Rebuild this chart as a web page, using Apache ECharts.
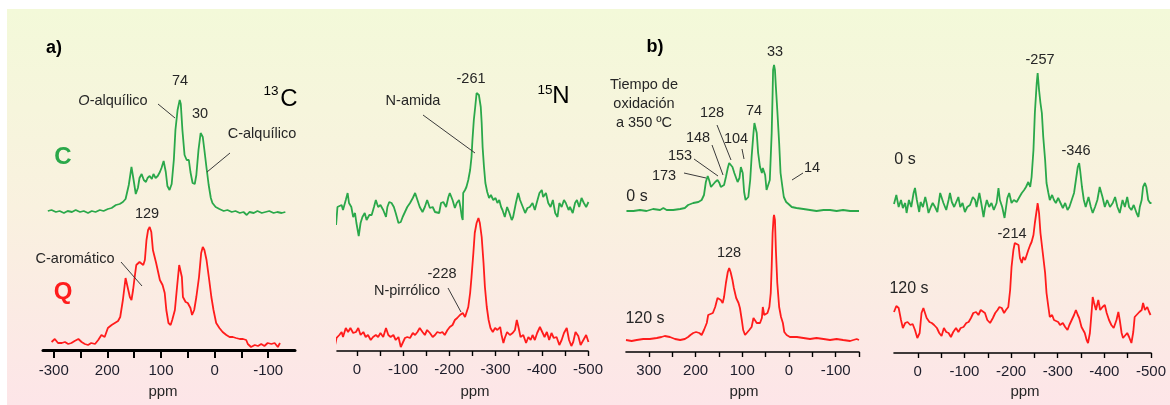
<!DOCTYPE html>
<html>
<head>
<meta charset="utf-8">
<script src="https://cdn.jsdelivr.net/npm/echarts@6/dist/echarts.min.js"></script>
<style>
  html, body { margin: 0; padding: 0; background: #fff; }
  #fondo {
    position: absolute; left: 7px; top: 9px; width: 1163px; height: 396px;
    background: linear-gradient(to bottom, #f3f9d9 0%, #f9f1df 50%, #fde5e8 100%);
  }
  #main { position: absolute; left: 0; top: 0; width: 1170px; height: 405px; }
</style>
</head>
<body>
<div id="fondo"></div>
<div id="main"></div>
<script>
// ---- datos: [ppm, intensidad relativa] ----

// a) 13C, muestra C (verde)
var c13_C = [[311,1],[304,2],[296,0],[289,1],[281,-1],[274,1],[266,0],[259,2],[251,0],[244,1],[236,-1],[229,1],[222,0],[214,2],[207,1],[199,3],[192,4],[184,7],[177,8],[171,10],[166,13],[160,27],[155,45],[151,32],[147,18],[143,24],[140,34],[136,38],[132,32],[128,30],[125,34],[121,36],[117,33],[114,38],[110,34],[106,36],[102,40],[99,44],[95,51],[91,40],[88,26],[84,22],[80,28],[76,52],[73,82],[69,102],[65,112],[63,108],[60,82],[56,57],[52,52],[48,52],[45,40],[41,29],[37,28],[34,37],[30,62],[26,79],[22,75],[19,62],[15,44],[11,27],[7,14],[4,9],[-2,5],[-9,3],[-17,1],[-24,2],[-32,0],[-39,1],[-47,-1],[-54,0],[-60,-3],[-65,0],[-73,-1],[-80,1],[-88,-1],[-95,0],[-102,1],[-110,-1],[-117,0],[-125,-1],[-132,0]];

// a) 13C, muestra Q (rojo)
var c13_Q = [[304,1],[298,4],[292,0],[285,0],[279,1],[273,-1],[267,0],[261,2],[254,4],[248,1],[242,-1],[236,-2],[230,0],[223,-1],[217,3],[211,8],[205,6],[199,15],[192,18],[186,20],[180,22],[176,26],[171,43],[166,65],[163,67],[158,46],[155,43],[152,53],[149,66],[146,78],[143,80],[140,81],[137,80],[133,78],[130,83],[127,103],[124,113],[121,116],[118,111],[115,93],[109,80],[102,63],[97,58],[93,50],[90,33],[86,20],[82,18],[79,23],[74,33],[70,56],[66,78],[64,80],[61,66],[59,46],[54,41],[50,40],[45,35],[42,28],[38,33],[34,46],[29,66],[25,90],[22,96],[19,93],[15,83],[10,63],[6,46],[2,33],[-3,20],[-9,15],[-15,11],[-22,8],[-28,6],[-34,6],[-40,5],[-47,4],[-53,4],[-59,3],[-62,-1],[-68,-4],[-75,-2],[-81,-3],[-87,-1],[-93,-3],[-99,0],[-106,-1],[-112,0],[-118,-4],[-122,0]];

// a) 15N, muestra C (verde)
var n15_C = [[50,-3],[45,-18],[42,0],[38,-1],[33,2],[30,-3],[24,7],[20,14],[17,4],[12,0],[8,-10],[4,-6],[1,-16],[-4,-29],[-8,-16],[-12,-10],[-17,-6],[-21,-13],[-27,-8],[-32,-8],[-37,0],[-41,7],[-46,0],[-51,2],[-57,-3],[-63,-10],[-66,0],[-70,5],[-75,4],[-80,0],[-84,-6],[-90,-16],[-95,-15],[-99,-10],[-104,-5],[-109,0],[-115,4],[-121,9],[-126,14],[-131,7],[-136,0],[-142,-5],[-147,0],[-152,7],[-158,-1],[-164,0],[-169,-5],[-172,-3],[-178,-6],[-182,4],[-187,5],[-193,0],[-198,10],[-201,14],[-207,7],[-212,-1],[-216,4],[-221,7],[-224,0],[-227,-10],[-229,-13],[-230,14],[-234,17],[-237,20],[-241,27],[-245,37],[-248,50],[-250,67],[-253,87],[-256,100],[-259,114],[-261,115],[-264,112],[-268,100],[-270,84],[-272,60],[-275,40],[-278,24],[-282,15],[-286,9],[-290,12],[-295,7],[-300,9],[-304,4],[-308,7],[-312,0],[-315,-3],[-320,-10],[-325,0],[-330,-6],[-335,-13],[-338,-10],[-344,4],[-349,14],[-353,7],[-359,0],[-364,-6],[-369,-1],[-374,0],[-380,4],[-385,-3],[-389,4],[-395,14],[-400,17],[-403,10],[-409,14],[-414,4],[-419,0],[-424,7],[-429,-6],[-434,-10],[-438,4],[-443,0],[-448,7],[-452,4],[-458,-3],[-461,0],[-467,-6],[-472,4],[-476,7],[-481,0],[-486,9],[-491,4],[-496,0],[-501,5]];

// a) 15N, muestra Q (rojo)
var n15_Q = [[51,-3],[48,-10],[44,-1],[38,2],[33,5],[30,0],[24,9],[19,5],[14,9],[8,4],[2,5],[-3,9],[-8,2],[-14,5],[-19,0],[-24,2],[-30,-3],[-35,0],[-41,2],[-46,0],[-51,4],[-57,0],[-63,9],[-68,2],[-73,0],[-79,2],[-84,-3],[-90,0],[-95,-10],[-99,-6],[-104,-1],[-109,0],[-115,-1],[-121,4],[-126,2],[-131,5],[-136,9],[-142,5],[-147,2],[-152,7],[-158,4],[-164,0],[-169,2],[-174,5],[-180,4],[-185,5],[-190,2],[-196,7],[-201,10],[-207,12],[-212,17],[-217,19],[-223,22],[-229,24],[-234,20],[-237,22],[-241,30],[-245,44],[-248,60],[-252,84],[-255,104],[-259,114],[-263,119],[-266,114],[-270,100],[-274,74],[-277,50],[-281,30],[-285,17],[-289,9],[-294,5],[-299,9],[-304,7],[-310,10],[-313,2],[-317,-6],[-320,-1],[-325,5],[-331,2],[-337,4],[-342,7],[-346,17],[-350,9],[-354,0],[-360,2],[-366,-6],[-371,0],[-376,-3],[-380,2],[-385,-3],[-390,4],[-396,10],[-401,5],[-406,0],[-411,5],[-416,-3],[-421,4],[-426,-1],[-432,0],[-438,-8],[-443,-3],[-448,4],[-454,9],[-459,-3],[-464,-9],[-468,-5],[-473,5],[-479,1],[-484,-8],[-490,-3],[-496,2],[-501,-5]];

// b) 13C, 0 s (verde)
var c13_0s = [[348,-1],[333,-1],[319,0],[305,-1],[291,1],[276,0],[269,2],[262,0],[248,0],[233,1],[223,2],[216,5],[205,7],[194,8],[187,10],[182,15],[178,28],[174,34],[171,30],[167,23],[163,25],[158,28],[153,30],[149,27],[146,23],[142,23],[139,25],[135,33],[131,42],[128,47],[124,48],[121,43],[117,37],[113,35],[110,28],[106,32],[103,43],[101,45],[99,37],[96,18],[93,10],[91,8],[87,13],[83,30],[80,53],[76,77],[74,87],[72,87],[69,77],[66,57],[62,43],[58,37],[56,42],[54,43],[51,35],[48,20],[44,18],[41,30],[37,77],[35,117],[34,140],[32,145],[30,140],[28,123],[25,100],[21,67],[18,37],[14,23],[11,13],[6,8],[1,6],[-6,3],[-16,2],[-31,1],[-45,0],[-59,-1],[-74,0],[-88,0],[-102,-1],[-116,0],[-131,-1],[-145,-1],[-150,-1]];

// b) 13C, 120 s (rojo)
var c13_120s = [[349,0],[337,-1],[326,0],[312,1],[298,1],[283,2],[273,3],[266,4],[262,5],[255,3],[244,1],[233,0],[223,1],[216,3],[211,5],[205,7],[199,8],[192,7],[187,5],[182,10],[176,17],[173,25],[169,23],[163,27],[158,33],[153,42],[149,43],[146,40],[142,37],[139,43],[135,57],[131,68],[128,72],[125,68],[121,60],[118,52],[113,42],[108,37],[105,32],[101,20],[98,10],[94,5],[91,7],[85,10],[80,13],[76,22],[73,23],[69,17],[66,15],[62,17],[58,22],[56,33],[53,25],[50,23],[46,27],[42,33],[39,47],[37,73],[35,107],[33,122],[32,125],[30,120],[28,90],[25,57],[21,33],[17,23],[13,17],[10,8],[5,5],[-2,3],[-17,3],[-31,2],[-45,1],[-59,2],[-74,1],[-88,0],[-102,1],[-116,0],[-131,-1],[-145,1],[-150,0]];

// b) 15N, 0 s (verde)
var n15_0s = [[51,-1],[46,8],[41,-4],[36,3],[32,-5],[27,0],[24,-10],[19,3],[14,-4],[9,10],[6,15],[2,3],[-3,-9],[-6,1],[-11,-4],[-16,6],[-19,0],[-23,-10],[-28,-4],[-32,0],[-37,-4],[-42,-9],[-48,10],[-51,11],[-55,0],[-61,-7],[-66,3],[-69,10],[-73,1],[-78,-4],[-82,-2],[-87,6],[-91,-4],[-96,0],[-101,-9],[-106,-4],[-112,-2],[-118,6],[-123,3],[-126,-4],[-132,10],[-136,0],[-141,-14],[-144,-5],[-148,3],[-153,-4],[-158,0],[-163,-7],[-169,0],[-173,15],[-176,3],[-181,-4],[-186,-15],[-189,-5],[-192,5],[-196,10],[-201,0],[-206,3],[-212,1],[-218,6],[-223,10],[-228,13],[-232,16],[-237,21],[-241,16],[-244,26],[-248,53],[-251,90],[-255,120],[-257,130],[-260,113],[-263,100],[-266,90],[-269,66],[-273,43],[-276,20],[-280,10],[-283,3],[-288,8],[-292,3],[-296,0],[-301,5],[-305,3],[-311,-5],[-316,0],[-321,-7],[-325,-4],[-330,3],[-335,10],[-339,23],[-343,36],[-346,40],[-348,33],[-352,16],[-356,3],[-360,-4],[-366,6],[-371,-4],[-375,-10],[-380,-4],[-385,3],[-390,16],[-396,6],[-401,-4],[-406,3],[-412,-4],[-418,0],[-423,6],[-428,-4],[-433,-10],[-439,3],[-444,-4],[-449,6],[-453,-4],[-458,-7],[-463,-2],[-469,-10],[-473,-14],[-476,-4],[-480,3],[-483,16],[-487,20],[-490,16],[-494,3],[-498,0],[-501,0]];

// b) 15N, 120 s (rojo)
var n15_120s = [[51,11],[46,17],[41,15],[36,3],[32,-5],[27,0],[22,1],[16,-2],[11,-1],[6,-7],[1,-15],[-4,-10],[-8,10],[-12,15],[-16,13],[-19,5],[-25,1],[-30,0],[-35,-2],[-41,-5],[-46,-10],[-51,-13],[-56,-5],[-61,-9],[-66,-10],[-71,-14],[-76,-9],[-82,-5],[-87,-9],[-92,-5],[-98,-4],[-104,0],[-109,1],[-114,5],[-119,10],[-125,11],[-130,8],[-135,13],[-139,15],[-144,10],[-149,3],[-155,0],[-161,5],[-166,10],[-171,13],[-175,16],[-180,15],[-185,10],[-189,13],[-194,16],[-198,33],[-201,56],[-205,73],[-208,80],[-212,81],[-216,78],[-219,65],[-223,60],[-226,66],[-230,63],[-233,65],[-237,73],[-241,78],[-244,81],[-248,88],[-251,100],[-255,113],[-257,120],[-260,110],[-263,90],[-268,70],[-273,50],[-276,30],[-280,16],[-283,6],[-288,8],[-292,3],[-296,5],[-301,1],[-305,-2],[-311,0],[-316,-4],[-321,-7],[-325,-2],[-330,3],[-335,8],[-339,13],[-343,8],[-346,5],[-351,-4],[-355,-5],[-358,-10],[-362,-17],[-365,-20],[-369,-10],[-373,13],[-375,26],[-378,20],[-382,13],[-387,23],[-391,13],[-396,16],[-401,18],[-405,10],[-410,3],[-415,-2],[-420,-5],[-426,3],[-430,11],[-433,3],[-437,-10],[-440,-15],[-444,-14],[-449,-10],[-453,-14],[-458,-20],[-462,-9],[-465,6],[-469,8],[-475,11],[-480,13],[-483,20],[-487,13],[-492,16],[-496,11],[-499,8]];

// marcas de los ejes
var ticksA13C = [300, 250, 200, 150, 100, 50, 0, -50, -100];
var labelsA13C = [300, 200, 100, 0, -100];
var ticks15N = [0, -50, -100, -150, -200, -250, -300, -350, -400, -450, -500];
var labels15N = [0, -100, -200, -300, -400, -500];
var ticksB13C = [300, 250, 200, 150, 100, 50, 0, -50, -100, -150];
var labelsB13C = [300, 200, 100, 0, -100];

var VERDE = '#2aa84a', ROJO = '#ff1c1c', TEXTO = '#262626';
var FUENTE = '"Liberation Sans", Arial, sans-serif';

// cada panel: eje x comun, traza verde arriba y roja abajo
var paneles = [
  { left: 43, width: 252, xmin: -150, xmax: 320, ticks: ticksA13C, labels: labelsA13C, grueso: true,
    arriba: { data: c13_C, top: 100, height: 117, ymin: -5, ymax: 112 },
    abajo: { data: c13_Q, top: 227, height: 123, ymin: -7, ymax: 116 } },
  { left: 337, width: 251, xmin: -500, xmax: 43, ticks: ticks15N, labels: labels15N,
    arriba: { data: n15_C, top: 92, height: 145, ymin: -30, ymax: 115 },
    abajo: { data: n15_Q, top: 218, height: 133, ymin: -14, ymax: 119 } },
  { left: 626, width: 233, xmin: -150, xmax: 349, ticks: ticksB13C, labels: labelsB13C,
    arriba: { data: c13_0s, top: 65, height: 150, ymin: -5, ymax: 145 },
    abajo: { data: c13_120s, top: 215, height: 137, ymin: -12, ymax: 125 } },
  { left: 894, width: 257, xmin: -500, xmax: 51, ticks: ticks15N, labels: labels15N,
    arriba: { data: n15_0s, top: 73, height: 145, ymin: -15, ymax: 130 },
    abajo: { data: n15_120s, top: 203, height: 150, ymin: -30, ymax: 120 } }
];

var grids = [], xAxes = [], yAxes = [], series = [];
paneles.forEach(function (p, i) {
  [p.arriba, p.abajo].forEach(function (t, k) {
    var idx = grids.length;
    var conEje = k === 1;
    grids.push({ left: p.left, width: p.width, top: t.top, height: t.height });
    xAxes.push({
      type: 'value', gridIndex: idx, inverse: true, min: p.xmin, max: p.xmax,
      show: conEje, splitLine: { show: false },
      axisLine: { show: true, onZero: false, lineStyle: { color: '#000', width: p.grueso ? 3 : 1.6 } },
      axisTick: { show: true, customValues: p.ticks, length: p.grueso ? 8 : 5,
                  lineStyle: { color: '#000', width: p.grueso ? 2 : 1.4 } },
      axisLabel: { customValues: p.labels, margin: p.grueso ? 13 : 11, color: '#1d1d2b',
                   fontSize: 15, fontFamily: FUENTE,
                   formatter: function (v) { return (i === 0 && v === 300) ? '-300' : String(v); } }
    });
    yAxes.push({ type: 'value', gridIndex: idx, show: false, min: t.ymin, max: t.ymax });
    series.push({
      type: 'line', xAxisIndex: idx, yAxisIndex: idx, data: t.data,
      showSymbol: false, silent: true, clip: false,
      lineStyle: { color: k === 0 ? VERDE : ROJO, width: 1.8 }
    });
  });
});

// textos y lineas de referencia
var normal = '14.5px ' + FUENTE;
function txt(x, y, s, extra) {
  var st = { text: s, x: x, y: y, fill: TEXTO, font: normal,
             align: 'center', verticalAlign: 'middle', textAlign: 'center', textVerticalAlign: 'middle' };
  for (var k in extra) st[k] = extra[k];
  return { type: 'text', z: 10, style: st };
}
function lin(x1, y1, x2, y2) {
  return { type: 'line', z: 10, shape: { x1: x1, y1: y1, x2: x2, y2: y2 },
           style: { stroke: '#3a3a3a', lineWidth: 1 } };
}
var grande = '24px ' + FUENTE;
var ppmFont = '15px ' + FUENTE;
var etiquetas = [
  txt(54, 48, 'a)', { font: 'bold 18px ' + FUENTE, fill: '#000' }),
  txt(180, 81, '74'),
  txt(113, 101, '{i|O}-alquílico', { rich: { i: { fontStyle: 'italic', fontSize: 14.5, fontFamily: FUENTE, fill: TEXTO } } }),
  lin(158, 104, 175, 118),
  txt(200, 114, '30'),
  txt(271, 91, '13', { font: '13.5px ' + FUENTE, fill: '#000' }),
  txt(289, 99, 'C', { font: grande, fill: '#000' }),
  txt(262, 134, 'C-alquílico'),
  lin(230, 153, 207, 172),
  txt(63, 157, 'C', { font: 'bold 24px ' + FUENTE, fill: VERDE }),
  txt(147, 214, '129'),
  txt(75, 259, 'C-aromático'),
  lin(121, 262, 142, 286),
  txt(63, 292, 'Q', { font: 'bold 24px ' + FUENTE, fill: ROJO }),
  txt(163, 392, 'ppm', { font: ppmFont }),

  txt(471, 79, '-261'),
  txt(545, 90, '15', { font: '13.5px ' + FUENTE, fill: '#000' }),
  txt(561, 96, 'N', { font: grande, fill: '#000' }),
  txt(413, 101, 'N-amida'),
  lin(423, 115, 475, 153),
  txt(442, 274, '-228'),
  txt(407, 291, 'N-pirrólico'),
  lin(448, 288, 461, 312),
  txt(475, 392, 'ppm', { font: ppmFont }),

  txt(655, 47, 'b)', { font: 'bold 18px ' + FUENTE, fill: '#000' }),
  txt(775, 52, '33'),
  txt(644, 85, 'Tiempo de'),
  txt(644, 104, 'oxidación'),
  txt(644, 123, 'a 350 ºC'),
  txt(712, 113, '128'),
  txt(754, 111, '74'),
  txt(698, 138, '148'),
  txt(736, 139, '104'),
  txt(680, 156, '153'),
  txt(664, 176, '173'),
  txt(812, 168, '14'),
  lin(684, 173, 706, 178),
  lin(694, 159, 718, 176),
  lin(712, 145, 723, 175),
  lin(717, 125, 731, 160),
  lin(742, 149, 744, 159),
  lin(803, 173, 792, 180),
  txt(637, 197, '0 s', { font: '16px ' + FUENTE }),
  txt(729, 253, '128'),
  txt(645, 319, '120 s', { font: '16px ' + FUENTE }),
  txt(744, 392, 'ppm', { font: ppmFont }),

  txt(1040, 60, '-257'),
  txt(1076, 151, '-346'),
  txt(905, 160, '0 s', { font: '16px ' + FUENTE }),
  txt(1012, 234, '-214'),
  txt(909, 289, '120 s', { font: '16px ' + FUENTE }),
  txt(1025, 392, 'ppm', { font: ppmFont })
];

var myChart = echarts.init(document.getElementById('main'));
myChart.setOption({
  animation: false,
  backgroundColor: 'transparent',
  grid: grids,
  xAxis: xAxes,
  yAxis: yAxes,
  series: series,
  graphic: etiquetas
});
</script>
</body>
</html>
